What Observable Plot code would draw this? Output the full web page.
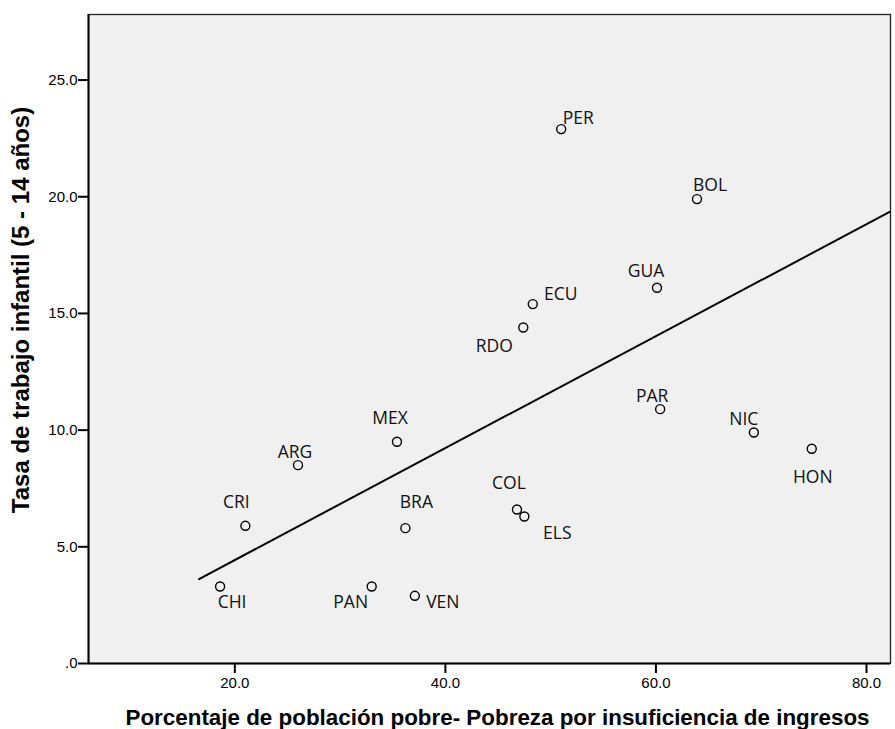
<!DOCTYPE html>
<html><head><meta charset="utf-8">
<script src="https://cdn.jsdelivr.net/npm/d3@7"></script>
<script src="https://cdn.jsdelivr.net/npm/@observablehq/plot@0.6"></script>
<style>
body{margin:0;background:#fff}
.spss g[aria-label="x-axis tick label"], .spss g[aria-label="y-axis tick label"] {font-size:15px; font-family:'Liberation Sans', Arial, sans-serif;}
</style>
</head><body><div id="chart"></div>
<script>
const countries  = ["CHI","CRI","ARG","MEX","BRA","PAN","VEN","COL","ELS","RDO","ECU","PER","GUA","BOL","PAR","NIC","HON"];
const poverty    = [18.6, 21.0, 26.0, 35.4, 36.2, 33.0, 37.1, 46.8, 47.5, 47.4, 48.3, 51.0, 60.1, 63.9, 60.4, 69.3, 74.8];
const childLabor = [3.3, 5.9, 8.5, 9.5, 5.8, 3.3, 2.9, 6.6, 6.3, 14.4, 15.4, 22.9, 16.1, 19.9, 10.9, 9.9, 9.2];
// fit line
const fitX = [16.6, 82.2];
const fitY = [3.62, 19.35];
const xTicks = [20, 40, 60, 80];
const yTicks = [0, 5, 10, 15, 20, 25];
const xTitle = "Porcentaje de población pobre- Pobreza por insuficiencia de ingresos";
const yTitle = "Tasa de trabajo infantil (5 - 14 años)";

// label placement (pixel offsets from point)
const labelOffsets = {
  CHI:[12,16], CRI:[-9,-23], ARG:[-3,-13], MEX:[-7,-23], BRA:[11,-26], PAN:[-21,16],
  VEN:[28,7], COL:[-8,-26], ELS:[33,17], RDO:[-29,19], ECU:[28,-10], PER:[17,-11],
  GUA:[-11,-16], BOL:[13,-14], PAR:[-8,-13], NIC:[-10,-13], HON:[1,29]
};

const points = countries.map((c, i) => ({name: c, x: poverty[i], y: childLabor[i]}));
const fit = fitX.map((x, i) => ({x, y: fitY[i]}));

const labelFont = "'Open Sans', 'DejaVu Sans', sans-serif";
const fmt = d => d === 0 ? ".0" : d.toFixed(1);

const chart = Plot.plot({
  className: "spss",
  width: 895,
  height: 729,
  marginLeft: 88,
  marginRight: 5,
  marginTop: 14,
  marginBottom: 66,
  style: {fontFamily: "'Liberation Sans', Arial, sans-serif", fontSize: "15px", color: "#000", background: "#fff"},
  x: {domain: [6.1, 82.28]},
  y: {domain: [0, 27.81]},
  marks: [
    Plot.frame({fill: "#f0f0f0", stroke: "#222", strokeWidth: 1.3}),
    Plot.axisX({ticks: xTicks, tickFormat: fmt, tickSize: 10, tickPadding: 4, strokeWidth: 2, stroke: "#000", label: null}),
    Plot.axisY({ticks: yTicks, tickFormat: fmt, tickSize: 10, tickPadding: 1, strokeWidth: 2, stroke: "#000", label: null}),
    Plot.ruleX([6.1], {stroke: "#000", strokeWidth: 2}),
    Plot.ruleY([0], {stroke: "#000", strokeWidth: 2}),
    Plot.line(fit, {x: "x", y: "y", stroke: "#000", strokeWidth: 2}),
    Plot.dot(points, {x: "x", y: "y", r: 4.5, stroke: "#000", strokeWidth: 1.4, fill: "none"}),
    ...points.map(p => Plot.text([p], {
      x: "x", y: "y", text: "name",
      dx: labelOffsets[p.name][0], dy: labelOffsets[p.name][1],
      textAnchor: "middle", lineAnchor: "middle",
      fontSize: 17.5, fontFamily: labelFont, fill: "#111"
    })),
    Plot.text([xTitle], {frameAnchor: "bottom", dx: 8, dy: 54, lineAnchor: "middle", textAnchor: "middle",
      fontSize: 22.4, fontWeight: "bold", fill: "#000"}),
    Plot.text([yTitle], {frameAnchor: "left", rotate: -90, dx: -67, dy: -29, lineAnchor: "middle", textAnchor: "middle",
      fontSize: 24, fontWeight: "bold", fill: "#000"})
  ]
});
document.getElementById("chart").appendChild(chart);
</script>
</body></html>
